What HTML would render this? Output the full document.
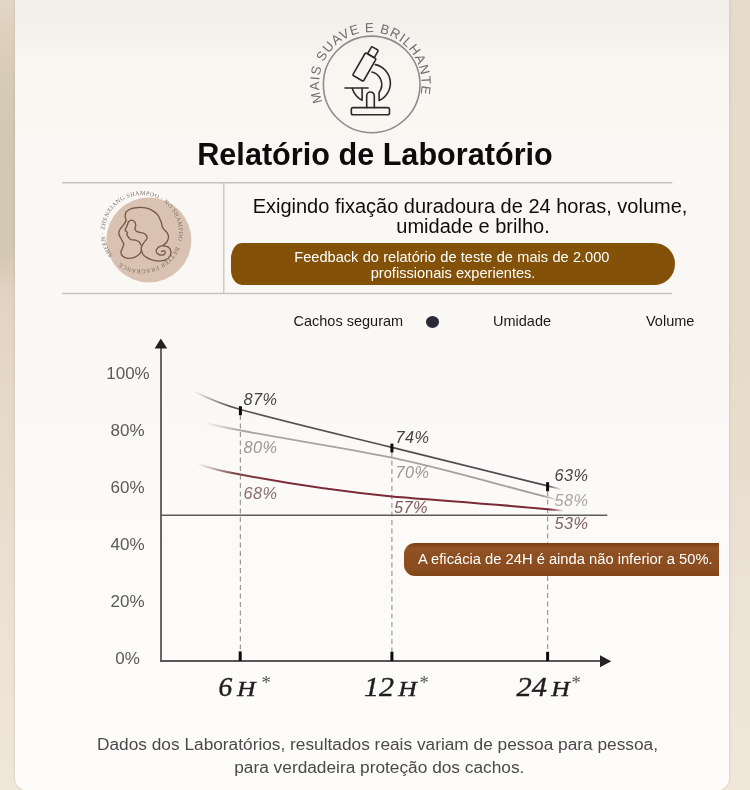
<!DOCTYPE html>
<html lang="pt-BR">
<head>
<meta charset="utf-8">
<title>Relatório de Laboratório</title>
<style>
*{margin:0;padding:0;box-sizing:border-box}
html,body{width:750px;height:790px;overflow:hidden}
body{position:relative;font-family:"Liberation Sans",sans-serif;color:#111;
  background:linear-gradient(180deg,#e6dac8 0%,#e6dac9 40%,#e9dece 60%,#ece2d5 75%,#efe5d9 90%,#f0e6da 100%)}
.ls{position:absolute;left:0;top:0;width:20px;height:790px;background:linear-gradient(180deg,#e3d8c6 0%,#ddd1be 4%,#d6cbb7 10%,#d3c8b4 16%,#d3c8b4 32%,#e0d3c1 37%,#e4d8c7 48%,#e8dccd 62%,#ece1d3 78%,#f0e6da 100%)}
.card{position:absolute;left:15.3px;top:-20px;width:713.7px;height:809.6px;border-radius:12px;
  background:linear-gradient(180deg,#f2efeb 0%,#f3f0ec 5%,#f8f5f0 9%,#faf7f3 15%,#faf8f5 40%,#fcfbf9 76%,#fdfcfa 100%);
  box-shadow:0 0 3px rgba(160,140,110,.35)}
.abs{position:absolute;white-space:nowrap}
h1{position:absolute;left:-0.5px;width:750px;top:134.6px;text-align:center;font-size:31.9px;line-height:38px;font-weight:700;color:#0c0c0c;transform:scaleX(.96);transform-origin:375px 50%;white-space:nowrap}
.hl{position:absolute;background:#c4c4c3;height:1.4px}
.vl{position:absolute;background:#c2c2c1;width:1.2px}
.lead{position:absolute;left:250px;width:440px;top:196.2px;text-align:center;font-size:20px;line-height:20.5px;color:#0e0e0e}
.lead span{position:relative;left:3px;top:-1.2px}
.pill span{position:relative;left:-1.2px;word-spacing:.25px}
.pill{position:absolute;left:231.2px;top:243.2px;width:443.8px;height:41.4px;border-radius:11px 21px 21px 11px / 15px 20.7px 20.7px 15px;background:#835208;color:#fff;
  font-size:14.6px;line-height:16px;text-align:center;padding-top:5.5px}
.leg{font-size:14.5px;line-height:18px;color:#1a1a1a}
.dot{position:absolute;left:426px;top:316px;width:13px;height:11.5px;border-radius:50%;background:#2b2b36}
.badge{position:absolute;left:403.5px;top:543.2px;width:315.4px;height:32.4px;border-radius:11px 0 0 11px;
  background:linear-gradient(180deg,#7e4316 0%,#844718 7%,#935524 16%,#8e5022 32%,#8b4d20 75%,#844919 92%,#7c4316 100%);color:#fff;font-size:14.73px;line-height:32px;padding-left:14.5px}
.foot{position:absolute;left:0;width:755px;top:732.8px;text-align:center;font-size:17.3px;line-height:23.2px;color:#4a4a4a}
.foot span{position:relative;left:1.8px}
svg{position:absolute;left:0;top:0}
</style>
</head>
<body>
<div class="ls"></div>
<div class="card"></div>

<svg width="750" height="790" viewBox="0 0 750 790">
  <defs>
    <path id="arc1" d="M 322.51 101.78 A 51.3 51.3 0 1 1 419.19 99.25"/>
    <path id="arc2" d="M 112.7 255.5 A 37.2 37.2 0 1 1 112.74 255.55"/>
    <linearGradient id="f1" gradientUnits="userSpaceOnUse" x1="193" y1="0" x2="562" y2="0">
      <stop offset="0" stop-color="#555" stop-opacity="0"/>
      <stop offset="0.1" stop-color="#555" stop-opacity="1"/>
      <stop offset="0.96" stop-color="#4a4a50" stop-opacity="1"/>
      <stop offset="1" stop-color="#4a4a50" stop-opacity="0"/>
    </linearGradient>
    <linearGradient id="f2" gradientUnits="userSpaceOnUse" x1="205" y1="0" x2="558" y2="0">
      <stop offset="0" stop-color="#aaa59b" stop-opacity="0"/>
      <stop offset="0.1" stop-color="#aaa59b" stop-opacity="1"/>
      <stop offset="0.96" stop-color="#a5a199" stop-opacity="1"/>
      <stop offset="1" stop-color="#a5a199" stop-opacity="0"/>
    </linearGradient>
    <linearGradient id="f3" gradientUnits="userSpaceOnUse" x1="197" y1="0" x2="564" y2="0">
      <stop offset="0" stop-color="#7a6a64" stop-opacity="0"/>
      <stop offset="0.1" stop-color="#7a4a48" stop-opacity="1"/>
      <stop offset="0.2" stop-color="#7a2a36" stop-opacity="1"/>
      <stop offset="0.96" stop-color="#7a2a36" stop-opacity="1"/>
      <stop offset="1" stop-color="#7a2a36" stop-opacity="0"/>
    </linearGradient>
  </defs>

  <!-- header frame -->
  <g stroke="#c3c3c2" stroke-width="1.5" fill="none">
    <path d="M62.2 182.8 H672.3"/>
    <path d="M62.2 293.4 H672.3"/>
    <path d="M223.8 182.8 V293.4" stroke-width="1.3"/>
  </g>

  <!-- top logo -->
  <g id="logo">
    <circle cx="371.7" cy="84.4" r="48.3" fill="none" stroke="#8d8d8d" stroke-width="1.6"/>
    <text font-family="'Liberation Sans',sans-serif" font-size="13.2" fill="#6e6e6e"><textPath href="#arc1" textLength="190" lengthAdjust="spacing">MAIS SUAVE E BRILHANTE</textPath></text>
    <g fill="none" stroke="#2a2a2a" stroke-width="1.6" stroke-linejoin="round" stroke-linecap="round">
      <rect x="351.3" y="107.6" width="38.2" height="7.2" rx="1.8"/>
      <path d="M366.7 107.6 V95.8 a3.8 3.8 0 0 1 7.6 0 V107.6"/>
      <path d="M345 88 H368.1"/>
      <path d="M352.3 88.6 Q355 97 362.1 100.2 V88.6"/>
      <g transform="translate(364.4 67) rotate(30)">
        <rect x="-6.2" y="-13" width="12.4" height="26" rx="1.3"/>
        <rect x="-3.9" y="-21.4" width="7.8" height="8.4" rx="1.2"/>
      </g>
      <path d="M375.3 64.6 A18.9 18.9 0 0 1 379.1 100.4 V92.4 A13 13 0 0 0 372 72"/>
    </g>
  </g>

  <!-- hair badge -->
  <g id="badge">
    <circle cx="148.9" cy="240" r="42.5" fill="#d9c2b1"/>
    <text font-family="'Liberation Serif',serif" font-size="6" fill="#746c65"><textPath href="#arc2" textLength="227">SHEEN · ZHENXIANG SHAMPOO · NO SHAMPOO · BETTER FRAGRANCE ·</textPath></text>
    <path d="M126.0 212.1 C126.8 211.6 128.6 209.6 130.7 208.9 C132.7 208.1 135.6 207.6 138.1 207.5 C140.6 207.3 143.3 207.5 145.6 207.9 C147.9 208.4 150.1 209.1 152.1 210.3 C154.2 211.4 156.3 213.1 157.7 214.9 C159.2 216.8 160.1 219.3 161.0 221.5 C161.9 223.6 161.9 226.1 162.9 228.0 C163.9 229.9 166.1 231.1 167.1 232.7 C168.0 234.2 168.5 235.8 168.5 237.3 C168.4 238.9 167.7 240.7 166.9 242.0 C166.0 243.3 163.9 244.5 163.3 245.0 M128.3 221.9 C128.8 221.6 130.1 220.1 131.1 220.1 C132.1 220.0 133.6 220.6 134.4 221.5 C135.2 222.3 135.7 224.0 135.8 225.2 C135.9 226.4 134.6 227.8 134.9 228.9 C135.1 230.0 136.0 231.1 137.2 231.7 C138.4 232.4 140.5 232.2 141.9 232.7 C143.3 233.1 144.7 233.6 145.6 234.5 C146.5 235.5 147.3 236.9 147.0 238.3 C146.7 239.7 144.7 241.5 143.7 242.9 C142.8 244.4 141.7 245.7 141.4 247.1 C141.1 248.5 141.2 249.9 141.7 251.3 C142.1 252.8 142.6 254.3 144.2 255.7 C145.8 257.1 148.8 258.8 151.2 259.7 C153.6 260.6 156.2 261.1 158.7 261.1 C161.2 261.1 164.2 260.6 166.1 259.7 C168.0 258.8 169.3 257.3 170.1 255.8 C170.8 254.3 171.1 252.3 170.8 250.9 C170.5 249.4 169.6 248.0 168.3 247.1 C167.0 246.3 164.5 245.7 162.9 245.7 C161.2 245.8 159.3 246.6 158.2 247.4 C157.1 248.3 156.1 249.7 156.1 250.9 C156.1 252.0 157.1 253.4 158.2 254.1 C159.3 254.8 161.2 255.3 162.4 255.1 C163.6 254.9 164.9 253.7 165.2 252.9 C165.5 252.2 164.6 250.8 164.0 250.6 C163.4 250.4 161.9 251.4 161.5 251.6 M126.0 212.1 C125.8 212.8 125.1 214.5 125.1 215.9 C125.1 217.3 126.3 219.0 126.0 220.5 C125.7 222.1 124.3 223.6 123.2 225.2 C122.1 226.8 120.4 228.3 119.7 229.9 C119.0 231.4 118.7 233.0 119.0 234.5 C119.3 236.1 120.6 237.6 121.3 239.2 C122.1 240.8 123.5 242.3 123.7 243.9 C123.8 245.4 122.7 247.1 122.3 248.5 C121.8 249.9 120.8 251.0 120.9 252.3 C120.9 253.5 121.3 255.0 122.5 256.0 C123.6 257.0 125.9 258.1 127.9 258.3 C129.9 258.6 132.5 258.0 134.4 257.4 C136.3 256.8 137.9 255.6 139.1 254.6 C140.2 253.6 140.8 251.7 141.1 251.1 M128.3 221.9 C128.2 222.4 127.8 223.7 127.4 224.7 C127.0 225.7 126.4 227.1 126.0 228.0 C125.6 228.9 124.8 229.6 125.1 230.3 C125.3 231.0 127.1 231.5 127.4 232.2 C127.7 232.9 126.7 233.8 126.9 234.7 C127.1 235.6 127.9 236.7 128.6 237.5 C129.3 238.3 130.0 239.2 131.1 239.7 C132.3 240.1 134.0 239.8 135.3 240.1 C136.7 240.5 138.2 241.0 139.1 241.8 C140.0 242.6 140.5 244.3 140.7 244.8" fill="none" stroke="#7a5845" stroke-width="1.35" stroke-linecap="round" stroke-linejoin="round"/>
  </g>

  <!-- chart -->
  <g id="chart">
    <g stroke="#9a9a9a" stroke-width="1.2" stroke-dasharray="5 3.5" fill="none">
      <path d="M240.4 415 V652"/>
      <path d="M391.9 452 V652"/>
      <path d="M547.6 491 V652"/>
    </g>
    <path d="M161 347 V661.8" stroke="#575757" stroke-width="1.8" fill="none"/>
    <path d="M160.8 338.5 L167.2 348.5 H154.6 Z" fill="#222"/>
    <path d="M160.1 661 H601" stroke="#575757" stroke-width="1.8" fill="none"/>
    <path d="M611.2 661.2 L600 655.2 V667.2 Z" fill="#222"/>
    <path d="M161 515.3 H607.3" stroke="#5c5c5c" stroke-width="1.5" fill="none"/>

    <path d="M193.9 391.3 C208 398.5 222 404.5 240.4 409.5 C290 423 340 434.6 391.9 447.4 L547.6 485.9 L562 489.5" stroke="url(#f1)" stroke-width="1.6" fill="none"/>
    <path d="M205 423 C218 426 228 428 240.4 430.4 C290 440 340 447 391.9 457.6 C440 467.5 500 485 547.6 497.2 L558 499.8" stroke="url(#f2)" stroke-width="1.8" fill="none"/>
    <path d="M197 463.5 C212 469 225 472 240.4 474.5 C290 484 340 491.5 391.9 496.4 C440 500.5 500 504.5 547.6 509.3 L564 510.8" stroke="url(#f3)" stroke-width="2" fill="none"/>

    <g stroke="#0c0c0c" stroke-width="3" fill="none">
      <path d="M240.4 406.2 V415.2"/>
      <path d="M391.9 443.6 V452.4"/>
      <path d="M547.6 482.2 V491.2"/>
      <path d="M240.2 651.4 V661"/>
      <path d="M391.9 651.8 V661"/>
      <path d="M547.6 651.8 V661"/>
    </g>

    <g font-family="'Liberation Sans',sans-serif" font-size="17" fill="#5a5a5a" text-anchor="middle">
      <text x="128" y="379.2">100%</text>
      <text x="127.5" y="436">80%</text>
      <text x="127.5" y="493">60%</text>
      <text x="127.5" y="550">40%</text>
      <text x="127.5" y="606.8">20%</text>
      <text x="127.5" y="663.6">0%</text>
    </g>
    <g font-family="'Liberation Sans',sans-serif" font-size="16.3" font-style="italic" letter-spacing="0.5" transform="translate(0 0.5)">
      <text x="243.5" y="404.6" fill="#444">87%</text>
      <text x="243.5" y="452.2" fill="#9a9894">80%</text>
      <text x="243.5" y="498" fill="#8a6d70">68%</text>
      <text x="395.5" y="442.3" fill="#444">74%</text>
      <text x="395.5" y="477.4" fill="#9a9894">70%</text>
      <text x="394" y="512.4" fill="#7c5a66">57%</text>
      <text x="554.5" y="480.6" fill="#444">63%</text>
      <text x="554.5" y="505.2" fill="#aaa8a4">58%</text>
      <text x="554.5" y="528.6" fill="#7c6068">53%</text>
    </g>
    <g font-family="'Liberation Serif',serif" font-style="italic" font-weight="400" fill="#1e1e1e" stroke="#1e1e1e" stroke-width="0.4" stroke-linejoin="round">
      <text x="218.6" y="695.6" font-size="27.5">6</text>
      <text x="237" y="695.6" font-size="21.5" textLength="18.5" lengthAdjust="spacingAndGlyphs">H</text>
      <text x="260.5" y="688.6" font-size="19" stroke="none" fill="#555">*</text>
      <text x="364" y="695.6" font-size="27.5" textLength="30" lengthAdjust="spacingAndGlyphs">12</text>
      <text x="398.3" y="695.6" font-size="21.5" textLength="18.5" lengthAdjust="spacingAndGlyphs">H</text>
      <text x="418.5" y="688.6" font-size="19" stroke="none" fill="#555">*</text>
      <text x="516.5" y="695.6" font-size="27.5" textLength="30.5" lengthAdjust="spacingAndGlyphs">24</text>
      <text x="551.3" y="695.6" font-size="21.5" textLength="18.5" lengthAdjust="spacingAndGlyphs">H</text>
      <text x="570.5" y="688.6" font-size="19" stroke="none" fill="#555">*</text>
    </g>
  </g>
</svg>

<h1>Relatório de Laboratório</h1>


<p class="lead">Exigindo fixação duradoura de 24 horas, volume,<br><span>umidade e brilho.</span></p>
<div class="pill"><span>Feedback do relatório de teste de mais de 2.000</span><br>profissionais experientes.</div>

<span class="abs leg" style="left:293.5px;top:312px">Cachos seguram</span>
<span class="dot"></span>
<span class="abs leg" style="left:493px;top:312.3px">Umidade</span>
<span class="abs leg" style="left:646px;top:311.5px">Volume</span>

<div class="badge">A eficácia de 24H é ainda não inferior a 50%.</div>

<p class="foot">Dados dos Laboratórios, resultados reais variam de pessoa para pessoa,<br><span>para verdadeira proteção dos cachos.</span></p>
</body>
</html>
